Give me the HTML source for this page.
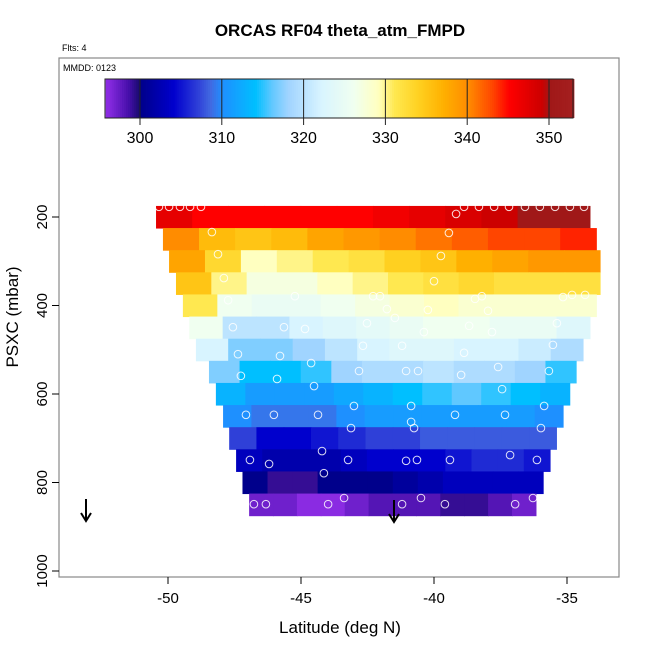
<!DOCTYPE html>
<html><head><meta charset="utf-8"><style>
html,body{margin:0;padding:0;background:#fff}
svg{display:block;font-family:"Liberation Sans",sans-serif}
</style></head><body>
<svg id="chart" width="650" height="650" viewBox="0 0 650 650">
<text x="340" y="36" text-anchor="middle" font-size="17" font-weight="bold">ORCAS RF04 theta_atm_FMPD</text>
<text x="62" y="51" font-size="9">Flts: 4</text>
<rect x="59" y="58" width="560" height="519" fill="none" stroke="#888" stroke-width="1.2"/>
<text x="63" y="71" font-size="9">MMDD: 0123</text>
<g id="heat"></g>
<g id="circles"></g>
<g id="cbar"></g>
<g id="axes"></g>
<text x="340" y="633" text-anchor="middle" font-size="17">Latitude (deg N)</text>
<text transform="translate(18,317) rotate(-90)" text-anchor="middle" font-size="17">PSXC (mbar)</text>
<g><line x1="86" y1="499" x2="86" y2="520" stroke="#000" stroke-width="2"/><path d="M81,513 L86,521 L91,513" fill="none" stroke="#000" stroke-width="2"/></g>
<g><line x1="394" y1="500" x2="394" y2="521" stroke="#000" stroke-width="2"/><path d="M389,514 L394,522 L399,514" fill="none" stroke="#000" stroke-width="2"/></g>
</svg>
<script>
const rowPressures=[200,250,300,350,400,450,500,550,600,650,700,750,800,850];
const rowStartLat=[-50.45,-50.19,-49.96,-49.7,-49.44,-49.2,-48.95,-48.46,-48.2,-47.93,-47.7,-47.44,-47.2,-46.95];
const rowEndLat=[-34.14,-33.9,-33.76,-33.76,-33.9,-34.14,-34.4,-34.66,-34.9,-35.15,-35.4,-35.64,-35.9,-36.17];
const rowValues=[
[347,345,345,345,345,345,346,347,348,349,350,350],
[340,336,335,336,338,339,340,341,342,343,343,344],
[338,333,329,330,331,332,334,335,337,338,339,339],
[335,330,327,327,329,330,331,332,333,332,332,332],
[331,326,325,325,326,327,328,329,328,328,328,328],
[326,320,320,322,323,324,325,326,326,325,325,323],
[322,317,317,318,320,322,323,323,322,322,321,319],
[317,314,314,315,318,319,319,320,319,319,318,315],
[313,311,311,311,312,313,314,315,316,315,314,313],
[310,309,309,309,310,311,311,311,311,311,311,310],
[307,304,304,305,306,307,307,308,308,308,308,308],
[303,302,302,302,303,304,304,304,305,306,306,305],
[300,299,299,300,300,300,301,302,303,303,303,303],
[297,297,296,296,297,298,298,298,299,299,298,297]];
const ptLat=[-50.34,-49.96,-49.55,-49.17,-48.76,-38.87,-38.31,-37.74,-37.18,-36.58,-36.02,-35.45,-34.89,-34.36,-39.17,-48.35,-39.44,-48.12,-39.74,-47.9,-40.0,-47.74,-45.23,-42.29,-42.03,-38.46,-38.2,-35.15,-34.81,-34.32,-41.77,-40.23,-37.97,-41.47,-42.52,-47.56,-45.64,-44.85,-38.68,-35.38,-40.38,-37.82,-42.67,-41.2,-35.53,-38.87,-47.37,-45.79,-44.62,-47.26,-45.9,-42.82,-41.05,-40.6,-38.98,-37.59,-35.68,-44.51,-37.44,-43.01,-40.86,-35.86,-47.07,-46.02,-44.36,-39.21,-37.33,-40.86,-43.12,-40.75,-35.98,-44.21,-46.92,-46.2,-43.23,-41.05,-40.64,-39.4,-37.14,-36.13,-44.14,-43.38,-40.49,-46.77,-46.32,-43.98,-41.2,-39.59,-36.95,-36.28];
const ptP=[177,177,177,177,177,177,177,177,177,177,177,177,177,177,193,234,236,284,288,338,345,388,379,379,379,385,379,381,376,376,408,410,412,428,440,449,449,453,446,440,460,460,491,491,489,507,510,514,530,559,566,548,548,548,557,539,548,582,589,627,627,627,647,647,647,647,647,663,677,677,677,729,749,758,749,751,749,749,738,749,779,835,835,849,849,849,849,849,849,835];
const xTicks=[-50,-45,-40,-35];
const yTicks=[200,400,600,800,1000];
const cbTicks=[300,310,320,330,340,350];
const stops=[[296,[138,43,226]],[298.5,[70,15,170]],[299.8,[26,10,112]],[300,[0,0,139]],[304,[0,0,205]],[307,[47,64,216]],[308.5,[65,105,225]],[310,[30,144,255]],[314,[0,191,255]],[316,[96,200,255]],[318,[160,212,255]],[322,[216,244,255]],[326,[240,255,240]],[329,[255,255,192]],[331,[255,232,80]],[334,[255,208,32]],[337,[255,176,0]],[340,[255,140,0]],[343,[255,69,0]],[345,[255,0,0]],[349,[204,0,0]],[350,[160,24,24]],[353,[165,32,32]]];
function cmap(v){if(v<=stops[0][0])return rgb(stops[0][1]);for(let i=1;i<stops.length;i++){if(v<=stops[i][0]){const a=stops[i-1],b=stops[i];const t=(v-a[0])/(b[0]-a[0]);return rgb(a[1].map((c,k)=>c+(b[1][k]-c)*t));}}return rgb(stops[stops.length-1][1]);}
function rgb(c){return 'rgb('+c.map(x=>Math.round(x)).join(',')+')';}
const X=lat=>168+(lat+50)*26.6;
const Y=p=>217+(p-200)*0.4425;
const CB=v=>140+(v-300)*8.18;
const NS='http://www.w3.org/2000/svg';
function mk(tag,attrs,parent){const e=document.createElementNS(NS,tag);for(const k in attrs)e.setAttribute(k,attrs[k]);parent.appendChild(e);return e;}
const heat=document.getElementById('heat');
rowPressures.forEach((p,r)=>{const vals=rowValues[r];const x0=X(rowStartLat[r]),x1=X(rowEndLat[r]);const w=(x1-x0)/vals.length;const y0=Y(p-25),y1=Y(p+25);
vals.forEach((v,i)=>{const c=mk('rect',{x:x0+i*w,y:y0,width:w+0.6,height:y1-y0+0.5,fill:cmap(v)},heat);

});});
const cg=document.getElementById('circles');
ptLat.forEach((lat,i)=>{const c=mk('circle',{cx:X(lat),cy:Y(ptP[i]),r:3.8,fill:'none',stroke:'#fff','stroke-width':1,'stroke-opacity':0.85},cg);

});
const cb=document.getElementById('cbar');
for(let v=295.8;v<353;v+=0.25){const r=mk('rect',{x:CB(v),y:79,width:8.18*0.25+0.4,height:39,fill:cmap(v)},cb);

}
mk('rect',{x:105,y:79,width:468,height:39,fill:'none',stroke:'#222','stroke-width':1},cb);
cbTicks.forEach(t=>{const x=CB(t);mk('line',{x1:x,y1:79,x2:x,y2:125,stroke:'#222','stroke-width':1},cb);
const tx=mk('text',{x:x,y:143,'text-anchor':'middle','font-size':16},cb);tx.textContent=t;

});
const ax=document.getElementById('axes');
xTicks.forEach(t=>{const x=X(t);mk('line',{x1:x,y1:577,x2:x,y2:584,stroke:'#000'},ax);
const tx=mk('text',{x:x,y:603,'text-anchor':'middle','font-size':15},ax);tx.textContent=t;

});
yTicks.forEach(t=>{const y=Y(t);mk('line',{x1:52,y1:y,x2:59,y2:y,stroke:'#000'},ax);
const tx=mk('text',{transform:'translate(47,'+y+') rotate(-90)','text-anchor':'middle','font-size':15},ax);tx.textContent=t;

});
</script>
</body></html>
